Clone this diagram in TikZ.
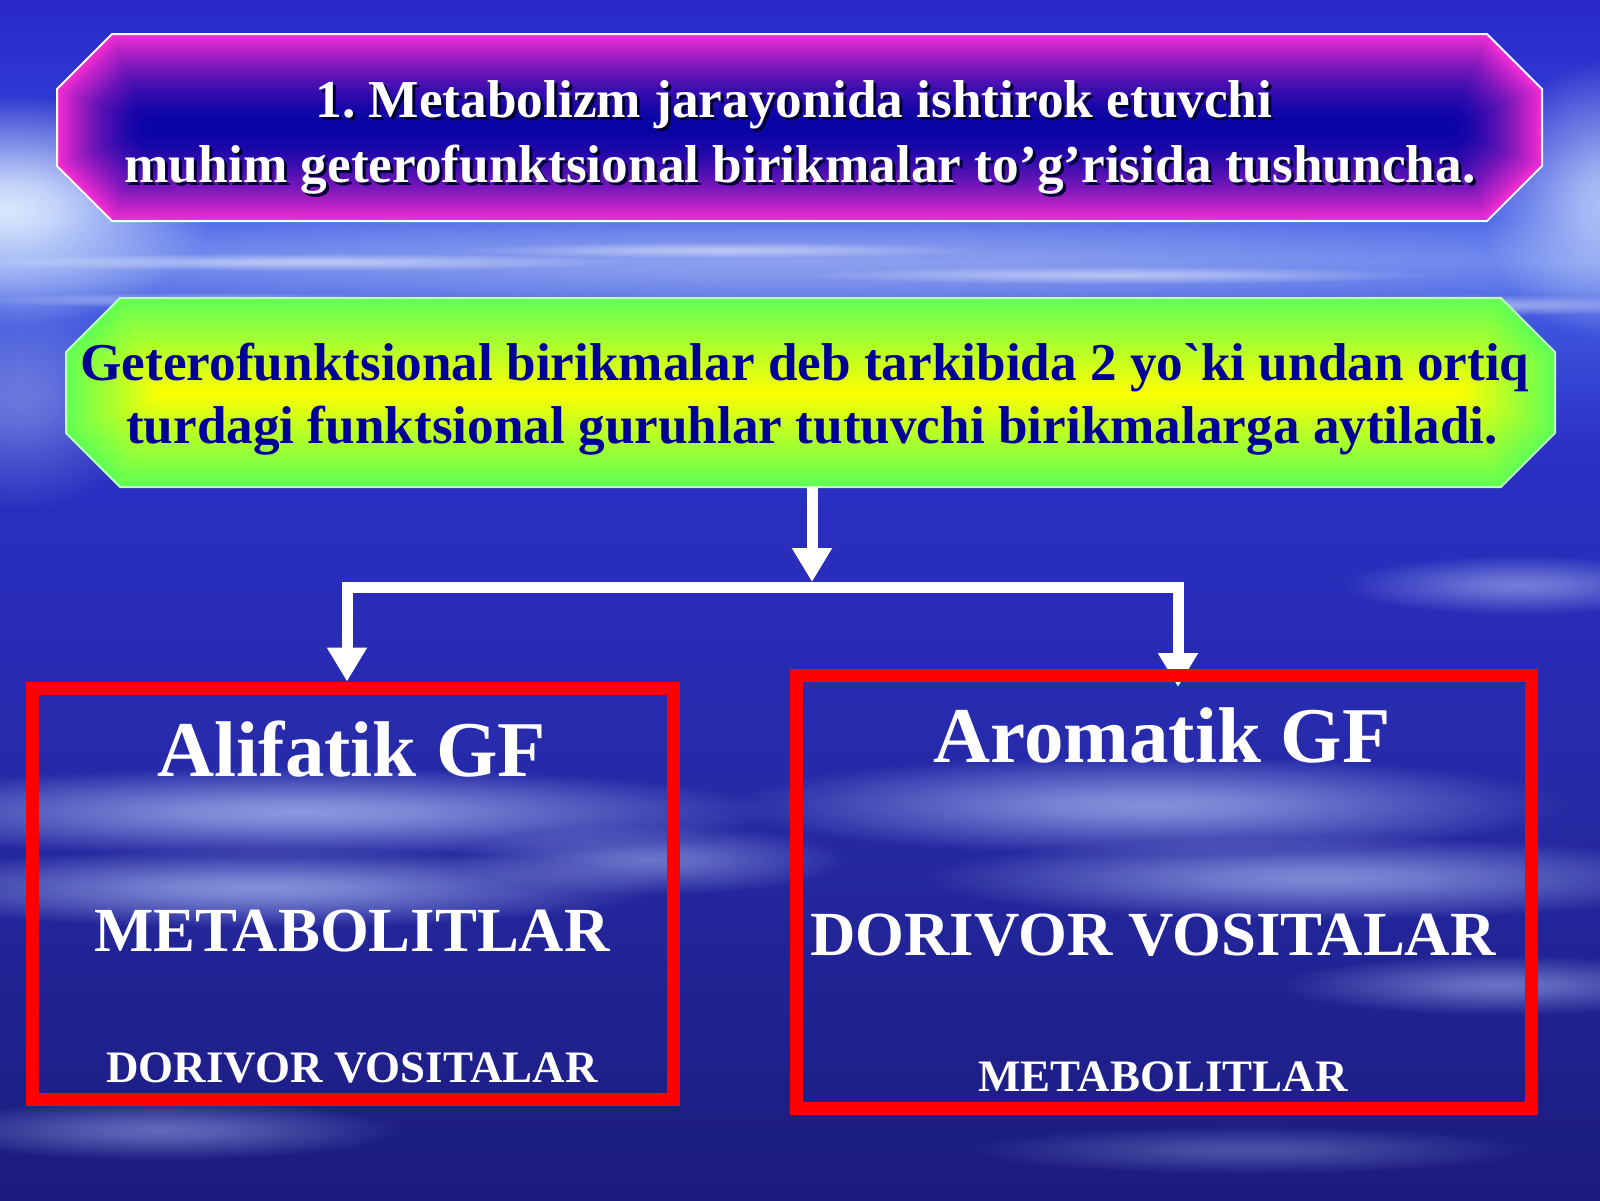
\documentclass[tikz,border=0pt]{standalone}
\usepackage{fontspec}
\setmainfont{Liberation Serif}[Ligatures=TeXOff]
\usetikzlibrary{arrows.meta,fadings,calc}
\definecolor{magE}{RGB}{245,45,210}
\definecolor{blueC}{RGB}{8,4,165}
\definecolor{greenE}{RGB}{95,255,85}
\definecolor{yellowC}{RGB}{255,255,0}
\definecolor{navytext}{RGB}{0,0,150}
\definecolor{cloudc}{RGB}{165,180,238}
\definecolor{glowc}{RGB}{225,240,255}
\definecolor{redframe}{RGB}{255,0,0}
\definecolor{bgA}{RGB}{28,28,125}
\definecolor{bgB}{RGB}{32,34,145}
\definecolor{bgC}{RGB}{38,42,165}
\definecolor{bgD}{RGB}{40,44,185}
\definecolor{bgE}{RGB}{42,48,195}
\definecolor{bgF}{RGB}{60,82,220}
\definecolor{bgG}{RGB}{95,125,238}
\definecolor{bgH}{RGB}{75,100,232}
\definecolor{bgI}{RGB}{50,65,215}
\definecolor{bgJ}{RGB}{40,40,200}
\pgfdeclareverticalshading{bgshade}{100bp}{color(0bp)=(bgA); color(25bp)=(bgA); color(33.35bp)=(bgB); color(41.65bp)=(bgC); color(50bp)=(bgD); color(56.25bp)=(bgE); color(61.25bp)=(bgF); color(64.15bp)=(bgG); color(65.85bp)=(bgH); color(68.75bp)=(bgI); color(75bp)=(bgJ); color(100bp)=(bgJ)}
\pgfdeclareradialshading{blobmask}{\pgfpointorigin}{color(0bp)=(pgftransparent!0); color(6bp)=(pgftransparent!15); color(25bp)=(pgftransparent!100); color(50bp)=(pgftransparent!100)}
\pgfdeclarefading{blob}{\pgfuseshading{blobmask}}
\newcommand\chpath[6]{({#1+#5+0.4142*#6},{#3+#6}) -- ({#2-#5-0.4142*#6},{#3+#6}) -- ({#2-#6},{#3+#5+0.4142*#6}) -- ({#2-#6},{#4-#5-0.4142*#6}) -- ({#2-#5-0.4142*#6},{#4-#6}) -- ({#1+#5+0.4142*#6},{#4-#6}) -- ({#1+#6},{#4-#5-0.4142*#6}) -- ({#1+#6},{#3+#5+0.4142*#6}) -- cycle}
\frenchspacing
\begin{document}
\begin{tikzpicture}[x=1pt,y=-1pt,
  holder/.style={draw=none,inner sep=0pt,outer sep=0pt},
  ttl/.style={font=\fontsize{53.3}{60}\selectfont\bfseries,inner sep=0pt,anchor=base,text=white},
  ttlshadow/.style={ttl,text=black!80!blue},
  defn/.style={font=\fontsize{53.2}{60}\selectfont\bfseries,inner sep=0pt,anchor=base,text=navytext},
  head/.style={font=\fontsize{79}{85}\selectfont\bfseries,inner sep=0pt,anchor=base,text=white},
  mid/.style={font=\fontsize{62.8}{68}\selectfont\bfseries,inner sep=0pt,anchor=base,text=white},
  low/.style={font=\fontsize{45}{50}\selectfont\bfseries,inner sep=0pt,anchor=base,text=white},
  conn/.style={draw=white,line width=11pt,-{Triangle[width=38pt,length=34pt]}},
  barline/.style={draw=white,line width=11pt,line cap=rect},
  frame/.style={draw=redframe,line width=13pt},
  cloud/.style={fill=cloudc,path fading=blob},
  boxedge/.style={draw=white,line width=2pt}
]
\useasboundingbox (0,0) rectangle (1600,1200);
% background
\shade[shading=bgshade] (0,0) rectangle (1600,1200);
\fill[glowc,path fading=blob,opacity=0.95] (10,210) ellipse [x radius=200pt,y radius=115pt];
\fill[glowc,path fading=blob,opacity=0.7] (1610,200) ellipse [x radius=130pt,y radius=140pt];
\fill[cloudc,path fading=blob,opacity=0.5] (20,400) ellipse [x radius=130pt,y radius=110pt];
\fill[cloudc,path fading=blob,opacity=0.65] (800,262) ellipse [x radius=1000pt,y radius=60pt];
\fill[white,path fading=blob,opacity=0.5] (300,262) ellipse [x radius=330pt,y radius=9pt];
\fill[white,path fading=blob,opacity=0.45] (720,250) ellipse [x radius=260pt,y radius=8pt];
\fill[white,path fading=blob,opacity=0.45] (1120,275) ellipse [x radius=320pt,y radius=9pt];
\fill[white,path fading=blob,opacity=0.5] (1460,305) ellipse [x radius=220pt,y radius=11pt];
\fill[white,path fading=blob,opacity=0.4] (200,300) ellipse [x radius=220pt,y radius=8pt];
\fill[cloud,opacity=0.8] (300,812) ellipse [x radius=480pt,y radius=45pt];
\fill[cloud,opacity=0.75] (260,888) ellipse [x radius=400pt,y radius=40pt];
\fill[cloud,opacity=0.55] (650,860) ellipse [x radius=200pt,y radius=35pt];
\fill[cloud,opacity=0.75] (1150,805) ellipse [x radius=420pt,y radius=50pt];
\fill[cloud,opacity=0.7] (1320,878) ellipse [x radius=400pt,y radius=42pt];
\fill[cloud,opacity=0.6] (1520,585) ellipse [x radius=180pt,y radius=30pt];
\fill[cloud,opacity=0.55] (1500,985) ellipse [x radius=220pt,y radius=30pt];
\fill[cloud,opacity=0.5] (160,1130) ellipse [x radius=240pt,y radius=30pt];
\fill[cloud,opacity=0.35] (1250,1150) ellipse [x radius=280pt,y radius=24pt];
% title box
\foreach \d in {0,2,...,92}{\pgfmathsetmacro\q{100*(1-\d/93)^1.7}\fill[magE!\q!blueC] \chpath{57}{1542}{34}{221}{55}{\d};}
\draw[boxedge] \chpath{57}{1542}{34}{221}{55}{0};
\node[holder,minimum width=1485pt,minimum height=187pt] (titlebox) at (799.5,127.5) {};
% definition box
\foreach \d in {0,2,...,94}{\pgfmathsetmacro\q{100-100*\d/95}\fill[greenE!\q!yellowC] \chpath{66}{1555}{298}{487}{54}{\d};}
\draw[boxedge,draw=white!60!greenE] \chpath{66}{1555}{298}{487}{54}{0};
\node[holder,minimum width=1489pt,minimum height=189pt] (defbox) at (810.5,392.5) {};
% texts
\node[ttlshadow] (t1s) at (797,120) {1. Metabolizm jarayonida ishtirok etuvchi};
\node[ttl] (t1) at (794,117) {1. Metabolizm jarayonida ishtirok etuvchi};
\node[ttlshadow] (t2s) at (803,185) {muhim geterofunktsional birikmalar to’g’risida tushuncha.};
\node[ttl] (t2) at (800,182) {muhim geterofunktsional birikmalar to’g’risida tushuncha.};
\node[defn] (d1) at (805,380) {Geterofunktsional birikmalar deb tarkibida 2 yo`ki undan ortiq};
\node[defn] (d2) at (812,443) {turdagi funktsional guruhlar tutuvchi birikmalarga aytiladi.};
% category boxes (placeholders)
\node[holder,minimum width=641pt,minimum height=411pt] (alif) at (352.5,893.5) {};
\node[holder,minimum width=735pt,minimum height=433pt] (arom) at (1163.5,891.5) {};
% connectors
\coordinate (split) at (812,582);
\coordinate (barL) at (347,587);
\coordinate (barR) at (1178,587);
\draw[conn] (defbox.south -| split) -- (split);
\draw[barline] (barL) -- (barR);
\draw[conn] (barL) -- ([yshift=6.5pt]barL |- alif.north);
\draw[conn] (barR) -- ([yshift=-12pt]barR |- arom.north);
% frames
\draw[frame] (alif.north west) rectangle (alif.south east);
\draw[frame] (arom.north west) rectangle (arom.south east);
% box texts
\node[head] (a1) at (352,776) {Alifatik GF};
\node[mid] (a2) at (352,951) {METABOLITLAR};
\node[low] (a3) at (352,1082) {DORIVOR VOSITALAR};
\node[head] (b1) at (1162,762) {Aromatik GF};
\node[mid] (b2) at (1153,955) {DORIVOR VOSITALAR};
\node[low] (b3) at (1163,1091) {METABOLITLAR};
\end{tikzpicture}
\end{document}
